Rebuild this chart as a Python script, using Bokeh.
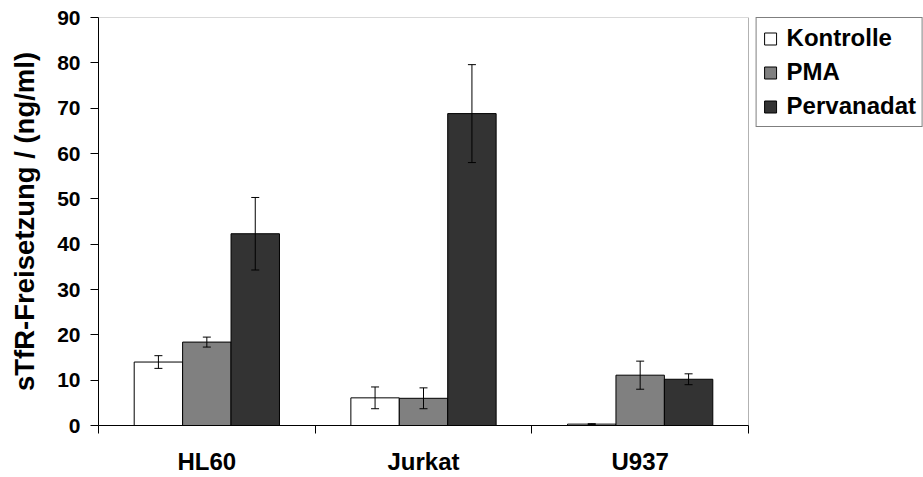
from bokeh.plotting import figure
from bokeh.models import (ColumnDataSource, Range1d, LinearAxis, FixedTicker, Whisker, TeeHead,
                          Legend, LegendItem, BoxAnnotation)
from bokeh.transform import dodge
from bokeh.embed import file_html
from bokeh.resources import INLINE

# ---- data ----
categories = ["HL60", "Jurkat", "U937"]
series = ["Kontrolle", "PMA", "Pervanadat"]
kontrolle = [14.0, 6.1, 0.3]
pma = [18.4, 6.0, 11.1]
pervanadat = [42.3, 68.8, 10.2]
kontrolle_err = [1.4, 2.4, 0.1]
pma_err = [1.1, 2.3, 3.1]
pervanadat_err = [8.0, 10.8, 1.2]
y_ticks = [0, 10, 20, 30, 40, 50, 60, 70, 80, 90]

values = [kontrolle, pma, pervanadat]
errors = [kontrolle_err, pma_err, pervanadat_err]
colors = ["#ffffff", "#808080", "#333333"]
bar_w = 0.2235
offsets = [-bar_w, 0.0, bar_w]

FONT = "Liberation Sans"
n = len(categories)
centers = [i + 0.5 for i in range(n)]          # category slots on the x scale
bounds_ticks = list(range(n + 1))               # slot boundaries

W, H = 923, 477
LEFT, TOP, BOTTOM = 98, 17, 51
plot_px = 650                                   # width of the bar area
frame_px = W - LEFT
x_end = n * frame_px / plot_px                  # leave room for the legend on the right

p = figure(x_range=Range1d(0, x_end), y_range=Range1d(0, 90),
           width=W, height=H, output_backend="svg", toolbar_location=None,
           x_axis_location=None, min_border_left=LEFT, min_border_right=0,
           min_border_top=TOP, min_border_bottom=BOTTOM)
p.xgrid.grid_line_color = None
p.ygrid.grid_line_color = None
p.outline_line_color = None

# plot-area border (top and right sides of the bar area)
p.add_layout(BoxAnnotation(left=0, right=n, bottom=0, top=90, fill_alpha=0,
                           line_color="black", line_width=1, level="overlay"))

# y axis
ya = p.yaxis[0]
ya.ticker = FixedTicker(ticks=y_ticks)
ya.axis_label = "sTfR-Freisetzung / (ng/ml)"
ya.axis_label_text_font = FONT
ya.axis_label_text_font_style = "bold"
ya.axis_label_text_font_size = "27.5px"
ya.axis_label_text_color = "black"
ya.axis_label_standoff = 14
ya.major_label_text_font = FONT
ya.major_label_text_font_style = "bold"
ya.major_label_text_font_size = "21px"
ya.major_label_text_color = "black"
ya.major_label_standoff = 10
ya.major_tick_in = 0
ya.major_tick_out = 8
ya.minor_tick_line_color = None
ya.axis_line_color = "black"
ya.major_tick_line_color = "black"

# x axis: tick marks on slot boundaries, no labels
xt = LinearAxis(ticker=FixedTicker(ticks=bounds_ticks), bounds=(0, n),
                major_label_overrides={t: "" for t in bounds_ticks},
                major_label_text_font_size="0px", major_label_standoff=0,
                major_tick_in=0, major_tick_out=8, minor_tick_line_color=None,
                axis_line_color="black", major_tick_line_color="black")
p.add_layout(xt, "below")
# category names at slot centres
xc = LinearAxis(ticker=FixedTicker(ticks=centers), bounds=(0, n),
                major_label_overrides={c: name for c, name in zip(centers, categories)},
                major_tick_line_color=None, axis_line_color=None,
                major_tick_in=0, major_tick_out=0, minor_tick_line_color=None,
                major_label_text_font=FONT, major_label_text_font_style="bold",
                major_label_text_font_size="24px", major_label_text_color="black",
                major_label_standoff=14)
p.add_layout(xc, "below")

items = []
for name, vals, errs, col, off in zip(series, values, errors, colors, offsets):
    src = ColumnDataSource(dict(x=centers, val=vals,
                                lower=[v - e for v, e in zip(vals, errs)],
                                upper=[v + e for v, e in zip(vals, errs)]))
    r = p.vbar(x=dodge("x", off), top="val", width=bar_w, bottom=0,
               source=src, fill_color=col, line_color="black", line_width=1)
    w = Whisker(base=dodge("x", off), lower="lower", upper="upper",
                source=src, line_color="black", line_width=1, level="overlay",
                lower_head=TeeHead(size=8, line_color="black", line_width=1),
                upper_head=TeeHead(size=8, line_color="black", line_width=1))
    p.add_layout(w)
    items.append(LegendItem(label=name, renderers=[r]))

legend = Legend(items=items, location="top_right", orientation="vertical",
                label_text_font=FONT, label_text_font_style="bold",
                label_text_font_size="24px", label_text_color="black",
                glyph_width=15, glyph_height=15, label_height=25, label_standoff=9,
                spacing=6, padding=6, margin=0,
                border_line_color="black", border_line_width=1,
                background_fill_color="white", background_fill_alpha=1)
p.add_layout(legend, "center")

open("out.html", "w").write(file_html(p, INLINE))
